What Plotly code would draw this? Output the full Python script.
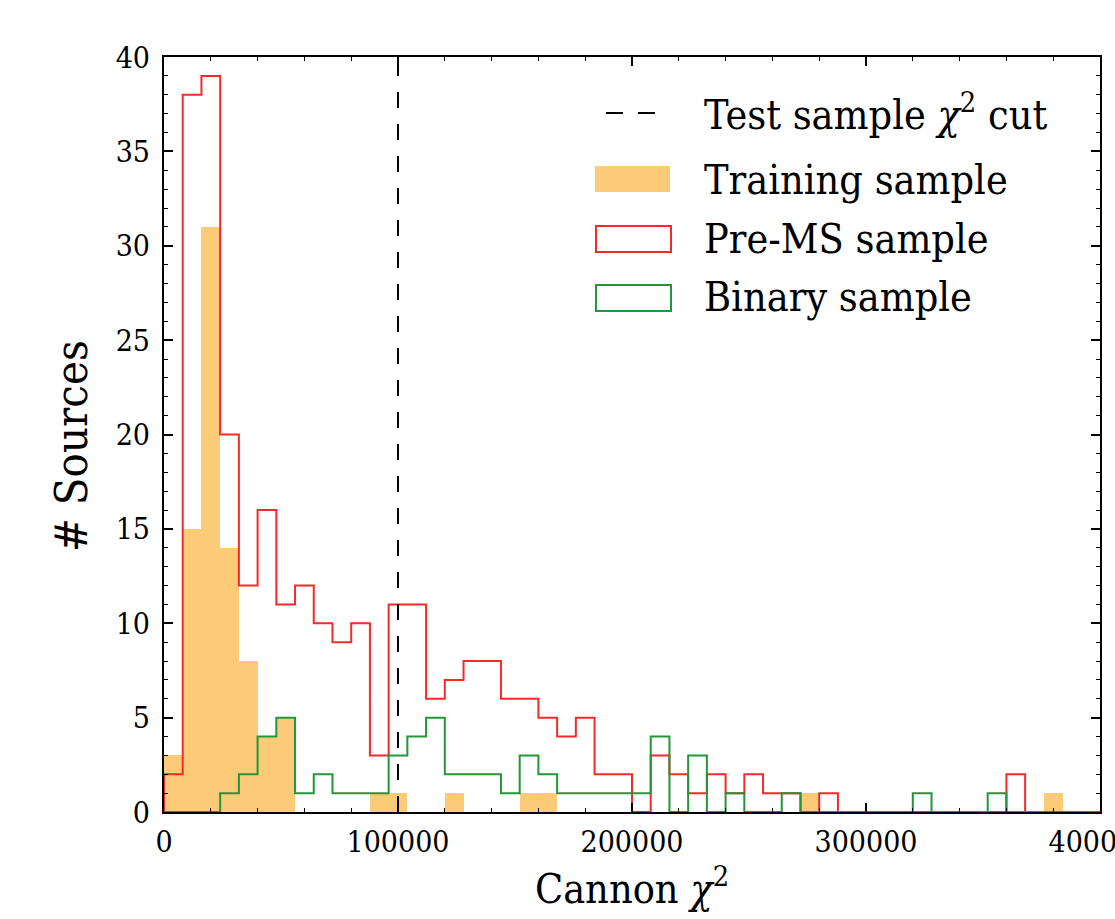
import numpy as np
import plotly.graph_objects as go

# ---- data ----
BIN_WIDTH = 8000
N_BINS = 50
CHI2_CUT = 100000

training = [3, 15, 31, 14, 8, 4, 5, 0, 0, 0,
            0, 1, 1, 0, 0, 1, 0, 0, 0, 1,
            1, 0, 0, 0, 0, 0, 0, 0, 0, 0,
            0, 0, 0, 0, 1, 0, 0, 0, 0, 0,
            0, 0, 0, 0, 0, 0, 0, 1, 0, 0]

pre_ms = [2, 38, 39, 20, 12, 16, 11, 12, 10, 9,
          10, 3, 11, 11, 6, 7, 8, 8, 6, 6,
          5, 4, 5, 2, 2, 0, 3, 2, 1, 2,
          1, 2, 1, 1, 0, 1, 0, 0, 0, 0,
          0, 0, 0, 0, 0, 2, 0, 0, 0, 0]

binary = [0, 0, 0, 1, 2, 4, 5, 1, 2, 1,
          1, 1, 3, 4, 5, 2, 2, 2, 1, 3,
          2, 1, 1, 1, 1, 1, 4, 0, 3, 0,
          1, 0, 0, 1, 0, 0, 0, 0, 0, 0,
          1, 0, 0, 0, 1, 0, 0, 0, 0, 0]

x_ticks = [0, 100000, 200000, 300000, 400000]
y_ticks = [0, 5, 10, 15, 20, 25, 30, 35, 40]

labels = ["Test sample <i>χ</i><sup>2</sup> cut", "Training sample",
          "Pre-MS sample", "Binary sample"]
y_title = "# Sources"
x_title = "Cannon <i>χ</i><sup>2</sup>"

# ---- styles ----
FONT = "DejaVu Serif Condensed, DejaVu Serif, serif"
ORANGE = "#fdcb78"
RED = "#f52a2a"
GREEN = "#24963a"

edges = np.arange(N_BINS + 1) * BIN_WIDTH
centers = (edges[:-1] + edges[1:]) / 2


def step_xy(vals):
    xs = [edges[0]] + list(edges) + [edges[-1]]
    ys = [0] + list(vals) + [vals[-1], 0]
    return xs, ys


fig = go.Figure()

fig.add_trace(go.Bar(x=centers, y=training, width=BIN_WIDTH,
                     marker=dict(color=ORANGE, line=dict(width=0)),
                     name=labels[1], showlegend=False))

for vals, col, nm in [(pre_ms, RED, labels[2]), (binary, GREEN, labels[3])]:
    xs, ys = step_xy(vals)
    fig.add_trace(go.Scatter(x=xs, y=ys, mode="lines", line_shape="hv",
                             line=dict(color=col, width=2), name=nm,
                             showlegend=False))

fig.add_trace(go.Scatter(x=[CHI2_CUT, CHI2_CUT], y=[0, 40], mode="lines",
                         line=dict(color="black", width=2, dash="16px,16px"),
                         name=labels[0], showlegend=False))

# ---- manual legend (paper coordinates) ----
L, R, T, B = 164, 1100, 57, 812
W, H = R - L, B - T


def px(x):
    return (x - L) / W


def py(y):
    return (B - y) / H


shapes = []
shapes.append(dict(type="line", xref="paper", yref="paper",
                   x0=px(606), x1=px(623), y0=py(113), y1=py(113),
                   line=dict(color="black", width=2)))
shapes.append(dict(type="line", xref="paper", yref="paper",
                   x0=px(638), x1=px(655), y0=py(113), y1=py(113),
                   line=dict(color="black", width=2)))
shapes.append(dict(type="rect", xref="paper", yref="paper",
                   x0=px(595), x1=px(670), y0=py(192), y1=py(166),
                   fillcolor=ORANGE, line=dict(width=0)))
shapes.append(dict(type="rect", xref="paper", yref="paper",
                   x0=px(596), x1=px(671), y0=py(252), y1=py(226),
                   fillcolor="rgba(0,0,0,0)", line=dict(color=RED, width=2)))
shapes.append(dict(type="rect", xref="paper", yref="paper",
                   x0=px(596), x1=px(671), y0=py(311), y1=py(285),
                   fillcolor="rgba(0,0,0,0)", line=dict(color=GREEN, width=2)))

annotations = []
for lab, yc in zip(labels, [112, 180, 239, 297]):
    annotations.append(dict(text=lab, xref="paper", yref="paper",
                            x=px(702), y=py(yc), xanchor="left", yanchor="middle",
                            showarrow=False,
                            font=dict(family=FONT, size=41, color="black")))

# y-axis title (placed as in the reference, slightly below the axis centre)
annotations.append(dict(text=y_title, xref="paper", yref="paper",
                        x=px(72), y=py(446), xanchor="center", yanchor="middle",
                        textangle=-90, showarrow=False,
                        font=dict(family=FONT, size=45, color="black")))

fig.update_layout(
    width=1115, height=919,
    margin=dict(l=L, r=1115 - R, t=T, b=919 - B, pad=0, autoexpand=False),
    plot_bgcolor="white", paper_bgcolor="white",
    bargap=0, showlegend=False,
    shapes=shapes, annotations=annotations,
    font=dict(family=FONT, color="black"),
)

fig.update_xaxes(range=[0, 400000], tickvals=x_ticks, tickformat="d",
                 ticklabeloverflow="allow", automargin=False,
                 ticks="inside", ticklen=9, tickwidth=1.5, tickcolor="black",
                 minor=dict(dtick=20000, ticks="inside", ticklen=4,
                            tickwidth=1.2, tickcolor="black"),
                 showline=True, linecolor="black", linewidth=2, mirror="allticks",
                 showgrid=False, zeroline=False,
                 tickfont=dict(family=FONT, size=30, color="black"),
                 ticklabelstandoff=2,
                 title=dict(text=x_title,
                            font=dict(family=FONT, size=41, color="black"),
                            standoff=8))

fig.update_yaxes(range=[0, 40], tickvals=y_ticks, automargin=False,
                 ticks="inside", ticklen=9, tickwidth=1.5, tickcolor="black",
                 minor=dict(dtick=1, ticks="inside", ticklen=4,
                            tickwidth=1.2, tickcolor="black"),
                 showline=True, linecolor="black", linewidth=2, mirror="allticks",
                 showgrid=False, zeroline=False,
                 tickfont=dict(family=FONT, size=30, color="black"),
                 ticklabelstandoff=6)

fig.write_html("out.html")
